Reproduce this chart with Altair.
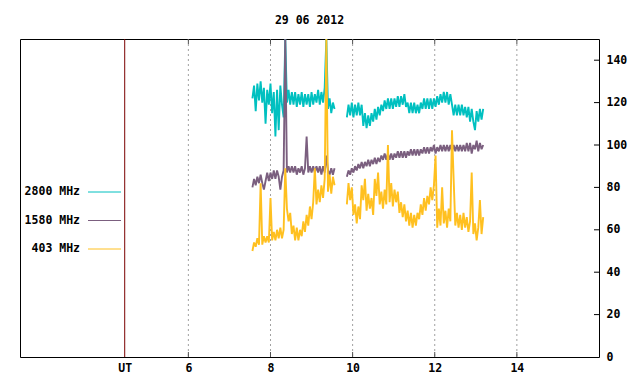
import altair as alt
import pandas as pd

TITLE = "29 06 2012"
SERIES = ["2800 MHz", "1580 MHz", "403 MHz"]
COLORS = ["#00c0c0", "#7b5f7f", "#ffc020"]

# time axis (hours UT)
seg1_start, seg1_step = 7.56, 0.04
seg2_start, seg2_step = 9.86, 0.04

cyan1 = [122, 128, 116, 129, 121, 130, 120, 127, 110, 126, 119, 129, 115, 125, 104, 126, 107, 128, 119, 113,
         150, 120, 126, 119, 125, 119, 125, 118, 124, 119, 125, 118, 124, 119, 124, 118, 125, 119, 124, 120,
         126, 119, 125, 120, 127, 150, 117, 122, 115, 120, 117]
purple1 = [80, 84, 81, 85, 82, 86, 82, 79, 83, 87, 83, 87, 84, 88, 84, 88, 85, 79, 85, 88,
           150, 87, 90, 87, 90, 87, 90, 86, 89, 87, 90, 86, 89, 104, 87, 90, 87, 90, 87, 90,
           87, 90, 86, 90, 87, 95, 88, 86, 89, 86, 89]
yellow1 = [50, 54, 52, 56, 53, 82, 53, 57, 54, 57, 54, 75, 55, 59, 55, 60, 56, 61, 56, 60,
           89, 70, 64, 68, 58, 62, 55, 61, 55, 60, 57, 64, 59, 67, 62, 71, 65, 73, 89, 72,
           79, 73, 81, 75, 84, 150, 78, 86, 77, 85, 81]

cyan2 = [113, 119, 114, 120, 113, 119, 114, 120, 114, 119, 109, 115, 108, 114, 109, 115, 111, 117, 112, 118,
         114, 119, 116, 121, 117, 122, 117, 122, 117, 122, 118, 123, 118, 123, 119, 124, 118, 120, 115, 120,
         115, 120, 115, 119, 115, 120, 117, 122, 117, 122, 117, 122, 117, 122, 118, 123, 119, 124, 120, 125,
         120, 125, 119, 124, 119, 114, 119, 114, 119, 114, 119, 114, 118, 113, 118, 111, 117, 111, 107, 116,
         111, 117, 112, 117]
purple2 = [85, 88, 86, 89, 87, 90, 88, 91, 89, 92, 89, 92, 90, 93, 90, 93, 91, 94, 91, 94,
           92, 95, 93, 96, 93, 96, 93, 96, 93, 96, 94, 97, 94, 97, 94, 97, 94, 97, 95, 98,
           95, 98, 95, 98, 95, 98, 96, 99, 96, 99, 96, 99, 97, 100, 96, 99, 97, 100, 97, 100,
           97, 100, 97, 100, 97, 100, 97, 100, 97, 100, 97, 100, 97, 101, 97, 101, 96, 100, 98, 102,
           97, 101, 98, 100]
yellow2 = [72, 82, 74, 80, 67, 72, 63, 71, 65, 81, 74, 84, 69, 77, 70, 75, 67, 84, 76, 87,
           72, 78, 70, 79, 72, 100, 73, 82, 71, 79, 73, 78, 68, 73, 66, 72, 64, 69, 62, 68,
           61, 67, 62, 68, 65, 72, 67, 75, 69, 76, 72, 80, 74, 81, 95, 61, 70, 62, 80, 63,
           69, 61, 70, 64, 107, 84, 62, 68, 61, 67, 60, 68, 61, 66, 59, 64, 87, 58, 63, 55,
           61, 74, 58, 66]

X_TICKS = [6, 8, 10, 12, 14]
UT_POS = 4.45
Y_TICKS = [0, 20, 40, 60, 80, 100, 120, 140]

rows = []
for name, s1, s2 in zip(SERIES, [cyan1, purple1, yellow1], [cyan2, purple2, yellow2]):
    for i, v in enumerate(s1):
        rows.append({"t": seg1_start + i * seg1_step, "v": v, "series": name, "seg": 1})
    for i, v in enumerate(s2):
        rows.append({"t": seg2_start + i * seg2_step, "v": v, "series": name, "seg": 2})
df = pd.DataFrame(rows)

W, H = 579, 318
FONT = "DejaVu Sans Mono"
xs = alt.Scale(domain=[1.9, 16.0], nice=False, zero=False)
ys = alt.Scale(domain=[0, 150], nice=False)

grid_df = pd.DataFrame({"t": X_TICKS})
grid = alt.Chart(grid_df).mark_rule(color="#a0a0a0", strokeDash=[2, 3], strokeWidth=1).encode(
    x=alt.X("t:Q", scale=xs,
            axis=alt.Axis(values=[UT_POS] + X_TICKS, labelExpr="datum.value < 5 ? 'UT' : datum.value",
                          domain=False, ticks=False, grid=False, title=None, labelPadding=5,
                          labelFont=FONT, labelFontSize=11.5, labelFontWeight="bold", labelColor="black",
                          labelFlush=False))
)
ut = alt.Chart(pd.DataFrame({"t": [UT_POS]})).mark_rule(color="#7a0000", strokeWidth=1).encode(
    x=alt.X("t:Q", scale=xs)
)
tick_bot = alt.Chart(grid_df).mark_rule(color="#505050").encode(
    x=alt.X("t:Q", scale=xs), y=alt.value(H), y2=alt.value(H - 5))
tick_top = alt.Chart(grid_df).mark_rule(color="#505050").encode(
    x=alt.X("t:Q", scale=xs), y=alt.value(0), y2=alt.value(5))
ytick_df = pd.DataFrame({"v": Y_TICKS[1:]})
tick_right = alt.Chart(ytick_df).mark_rule(color="black").encode(
    y=alt.Y("v:Q", scale=ys,
            axis=alt.Axis(orient="right", values=Y_TICKS, domain=False, ticks=False, grid=False, title=None,
                          labelPadding=7, labelFont=FONT, labelFontSize=11.5, labelFontWeight="bold",
                          labelColor="black", labelFlush=False)),
    x=alt.value(W - 5), x2=alt.value(W))

lines = []
for name, col in zip(SERIES, COLORS):
    lines.append(
        alt.Chart(df[df.series == name]).mark_line(color=col, strokeWidth=1.9, strokeJoin="bevel",
                                                   interpolate="linear").encode(
            x=alt.X("t:Q", scale=xs), y=alt.Y("v:Q", scale=ys), detail="seg:N")
    )

leg_y0, leg_dy = 153, 28.5
legend = []
for k, (name, col) in enumerate(zip(SERIES, COLORS)):
    yy = leg_y0 + k * leg_dy
    legend.append(alt.Chart(pd.DataFrame({"l": [name]})).mark_text(
        align="right", baseline="middle", font=FONT, fontSize=11.5, fontWeight="bold", color="black").encode(
        text="l:N", x=alt.value(60), y=alt.value(yy)))
    legend.append(alt.Chart(pd.DataFrame({"l": [name]})).mark_rule(color=col, strokeWidth=1).encode(
        x=alt.value(68), x2=alt.value(101), y=alt.value(yy)))

chart = alt.layer(grid, ut, tick_bot, tick_top, tick_right, *lines, *legend).properties(
    width=W, height=H,
    title=alt.TitleParams(TITLE, font=FONT, fontSize=11.5, fontWeight="bold", color="black", offset=12),
    autosize=alt.AutoSizeParams(type="none"),
    padding={"left": 12, "top": 31, "right": 33, "bottom": 27},
).configure_view(stroke="black", strokeWidth=1).resolve_scale(x="shared", y="shared")

chart.save("out.html", embed_options={"renderer": "svg", "actions": False})
